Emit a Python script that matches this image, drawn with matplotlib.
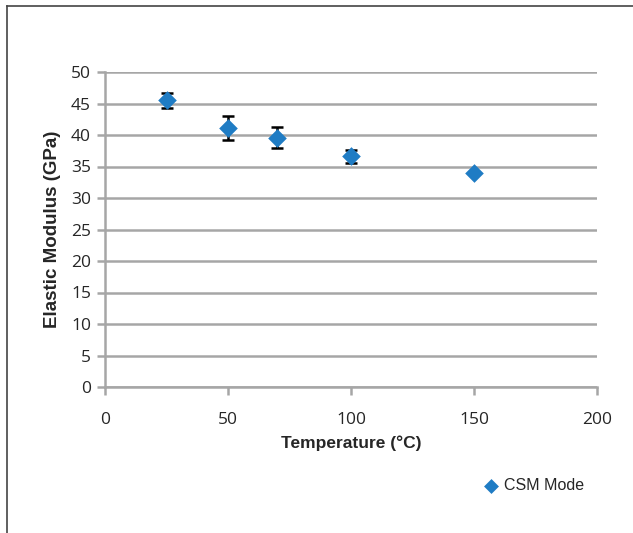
import matplotlib
matplotlib.use("Agg")
import matplotlib.pyplot as plt
from matplotlib.lines import Line2D
from matplotlib import font_manager

# data
temps = [25, 50, 70, 100, 150]
modulus = [45.5, 41.1, 39.6, 36.6, 33.9]
errors = [1.2, 1.95, 1.65, 1.05, 0.0]

series_label = "CSM Mode"
x_label = "Temperature (°C)"
y_label = "Elastic Modulus (GPa)"
x_ticks = [0, 50, 100, 150, 200]
y_ticks = [0, 5, 10, 15, 20, 25, 30, 35, 40, 45, 50]

names = {f.name for f in font_manager.fontManager.ttflist}
label_font = "Liberation Sans Narrow" if "Liberation Sans Narrow" in names else "Liberation Sans"

blue = "#1f7cc4"
grid_gray = "#a6a6a6"
text_col = "#262626"

fig = plt.figure(figsize=(6.33, 5.33), dpi=100)
ax = fig.add_axes([105 / 633, 1 - 387 / 533, 492 / 633, 315 / 533])

ax.errorbar(temps, modulus, yerr=errors, fmt="none", ecolor="black",
            elinewidth=1.8, capsize=4, capthick=1.8, zorder=3)
ax.scatter(temps, modulus, marker="D", s=90, color=blue, zorder=4,
           label=series_label, linewidths=0)

ax.set_xlim(0, 200)
ax.set_ylim(0, 50)
ax.set_xticks(x_ticks)
ax.set_yticks(y_ticks)
ax.yaxis.grid(True, color=grid_gray, linewidth=1.8)
ax.set_axisbelow(True)

for side in ["top", "right"]:
    ax.spines[side].set_visible(False)
for side in ["left", "bottom"]:
    ax.spines[side].set_color(grid_gray)
    ax.spines[side].set_linewidth(1.8)

ax.tick_params(axis="y", length=6, width=1.8, color=grid_gray, pad=4)
ax.tick_params(axis="x", length=6, width=1.8, color=grid_gray, pad=12)
for lab in ax.get_xticklabels() + ax.get_yticklabels():
    lab.set_fontfamily("Open Sans")
    lab.set_fontsize(12.5)
    lab.set_color(text_col)

ax.set_xlabel(x_label, fontfamily=label_font, fontweight="bold",
              fontsize=12.5, color=text_col, labelpad=5)
ax.set_ylabel(y_label, fontfamily=label_font, fontweight="bold",
              fontsize=13.5, color=text_col, labelpad=7)

leg = fig.legend(loc="center left", bbox_to_anchor=(461 / 633, 1 - 486 / 533),
                 frameon=False, handletextpad=-0.2, markerscale=0.8,
                 prop={"family": label_font, "size": 11.5})
for t in leg.get_texts():
    t.set_color(text_col)

# outer frame (left and top edges only)
fig.add_artist(Line2D([7 / 633, 7 / 633], [0, 1 - 6 / 533], color="#444444", linewidth=1.2))
fig.add_artist(Line2D([7 / 633, 1], [1 - 6 / 533, 1 - 6 / 533], color="#444444", linewidth=1.2))

fig.savefig("out.png", dpi=100)
